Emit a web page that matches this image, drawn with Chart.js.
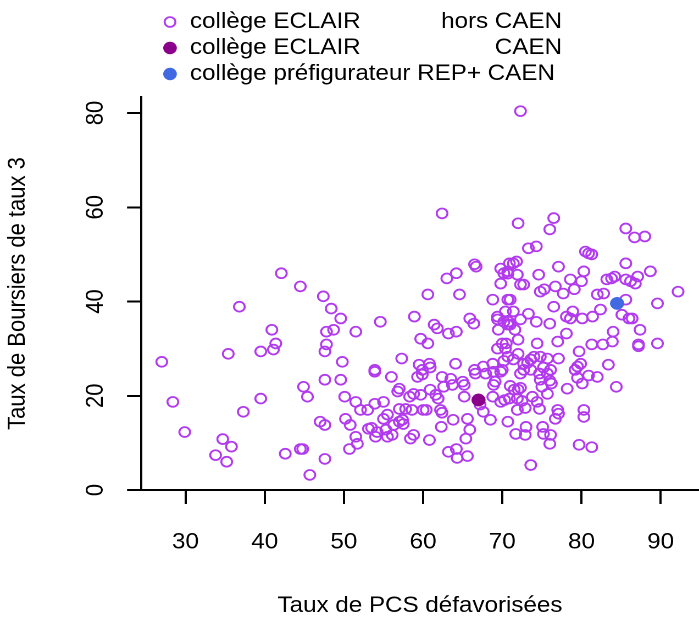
<!DOCTYPE html>
<html>
<head>
<meta charset="utf-8">
<script src="https://cdn.jsdelivr.net/npm/chart.js@4.4.1/dist/chart.umd.min.js"></script>
<style>
  html, body { margin: 0; padding: 0; background: #fff; overflow: hidden; }
  /* the reference picture is slightly stretched horizontally */
  #wrap { width: 636px; height: 617px; transform: scaleX(1.099); transform-origin: 0 0; }
</style>
</head>
<body>
<div id="wrap"><canvas id="chart" width="636" height="617"></canvas></div>
<script>
// Data
const horsCaenX = [
  72.3, 72.0, 76.5, 76.0, 85.6, 86.7, 88.0, 62.4, 42.1, 44.5, 47.4, 48.4, 36.8, 40.9, 41.4, 41.1,
  39.5, 35.4, 27.0, 47.8, 48.7, 47.8, 47.6, 28.4, 29.9, 34.7, 35.8, 33.8, 35.2, 37.3, 39.5, 44.9,
  45.4, 47.6, 47.0, 47.6, 42.6, 44.5, 44.8, 47.6, 45.7, 49.6, 51.5, 54.6, 49.8, 53.9, 57.3, 59.5,
  60.8, 60.9, 64.1, 66.5, 67.6, 68.8, 70.0, 70.7, 58.9, 59.7, 60.6, 61.4, 61.8, 63.2, 64.2, 65.9,
  66.4, 60.6, 64.6, 63.0, 64.2, 66.5, 66.7, 69.8, 70.2, 70.7, 69.8, 68.8, 70.7, 69.4, 69.4, 70.4,
  70.2, 69.5, 70.7, 70.0, 69.4, 70.4, 70.9, 73.3, 74.3, 80.5, 80.9, 81.3, 85.6, 88.7, 92.2, 89.6,
  87.4, 89.6, 87.2, 87.2, 84.0, 83.9, 82.7, 81.3, 79.7, 83.4, 79.9, 79.5, 77.1, 75.7, 74.8, 74.0,
  73.6, 72.7, 70.5, 72.0, 74.4, 77.0, 78.1, 76.0, 74.3, 73.3, 72.3, 71.4, 70.8, 71.0, 71.6, 76.5,
  78.1, 78.6, 78.9, 80.1, 81.4, 82.4, 85.1, 86.0, 86.4, 82.0, 82.8, 85.6, 71.0, 74.8, 75.3, 76.7,
  77.7, 79.1, 78.6, 80.0, 80.3, 77.1, 74.6, 72.7, 72.3, 71.9, 70.7, 71.4, 71.8, 83.2, 83.8, 84.2,
  85.6, 86.2, 86.8, 87.1, 70.2, 72.0, 71.4, 72.7, 73.6, 75.2, 76.1, 49.6, 53.9, 56.0, 59.9, 59.3,
  50.1, 51.5, 52.1, 53.0, 53.9, 55.0, 56.8, 57.0, 58.3, 58.8, 59.7, 60.9, 61.6, 61.9, 62.6, 63.7,
  65.0, 65.2, 65.2, 63.5, 62.4, 66.6, 67.9, 68.9, 69.8, 68.9, 69.1, 68.8, 69.8, 70.3, 67.2, 67.6,
  68.5, 70.7, 63.8, 65.6, 65.9, 65.4, 63.2, 64.2, 64.3, 65.6, 62.3, 58.8, 58.4, 60.8, 50.2, 50.8,
  53.1, 54.2, 54.0, 55.3, 55.5, 56.1, 56.3, 57.0, 57.4, 57.5, 51.5, 51.7, 50.7, 57.0, 57.8, 58.6,
  60.0, 60.4, 62.2, 62.4, 55.5, 55.0, 53.5, 72.3, 73.2, 74.7, 75.7, 74.8, 76.0, 76.2, 75.0, 75.7,
  78.2, 79.2, 79.5, 80.1, 80.9, 82.0, 84.4, 71.0, 71.5, 72.0, 72.3, 70.9, 71.9, 72.5, 73.8, 74.4,
  72.9, 71.9, 74.7, 77.0, 77.1, 76.7, 80.3, 80.3, 73.0, 75.1, 71.7, 72.9, 75.2, 76.1, 76.0, 79.7,
  81.3, 73.6, 59.9
];
const horsCaenY = [
  80.4, 56.6, 57.7, 55.3, 55.5, 53.6, 53.8, 58.7, 46.0, 43.2, 41.1, 38.5, 38.9, 34.0, 31.1, 29.8,
  29.4, 28.9, 27.2, 33.6, 34.0, 30.9, 29.4, 18.7, 12.3, 10.8, 9.2, 7.4, 6.0, 16.6, 19.4, 21.9,
  19.8, 23.4, 14.5, 13.8, 7.7, 8.7, 8.7, 6.6, 3.2, 36.4, 33.6, 35.7, 27.2, 25.5, 27.9, 26.6,
  26.8, 26.0, 26.8, 25.5, 26.2, 26.8, 25.5, 28.3, 36.8, 32.1, 31.1, 35.1, 34.3, 33.2, 33.6, 36.4,
  35.3, 41.5, 41.5, 44.9, 46.0, 47.9, 47.4, 47.0, 46.0, 46.4, 43.8, 40.4, 40.4, 36.8, 36.2, 37.9,
  35.7, 34.0, 35.1, 31.1, 30.0, 30.0, 48.1, 51.3, 51.7, 50.6, 50.2, 50.0, 48.1, 46.4, 42.1, 39.6,
  34.0, 31.1, 30.9, 30.5, 33.6, 31.5, 30.9, 30.9, 29.4, 26.6, 26.8, 26.2, 27.9, 27.9, 28.3, 28.3,
  27.7, 26.8, 31.1, 31.9, 31.1, 31.5, 33.2, 35.3, 35.7, 37.4, 36.2, 37.9, 35.7, 35.1, 34.0, 38.9,
  36.8, 36.4, 37.9, 36.4, 36.8, 38.3, 37.2, 36.4, 36.4, 41.5, 41.7, 40.4, 40.4, 42.1, 42.6, 43.2,
  41.7, 42.6, 44.7, 44.3, 46.4, 47.4, 45.7, 43.6, 43.6, 45.7, 45.9, 48.1, 48.5, 44.7, 44.9, 45.3,
  44.7, 44.3, 43.8, 45.3, 27.4, 28.9, 27.7, 25.5, 25.5, 26.0, 25.5, 23.4, 25.1, 24.0, 24.5, 24.0,
  19.8, 18.7, 17.0, 17.0, 18.3, 18.7, 20.9, 21.5, 19.8, 20.4, 20.2, 21.3, 20.2, 19.4, 21.9, 22.3,
  23.0, 22.3, 19.8, 23.6, 24.0, 24.7, 24.7, 25.1, 25.1, 22.3, 23.0, 19.8, 18.7, 19.1, 18.1, 16.6,
  14.9, 14.5, 14.9, 15.1, 12.8, 10.9, 8.1, 8.7, 6.8, 7.2, 13.4, 11.7, 10.9, 10.6, 15.1, 13.8,
  13.0, 12.3, 11.3, 12.8, 11.3, 11.7, 13.8, 14.5, 14.9, 14.0, 11.3, 9.8, 8.7, 17.2, 17.2, 17.0,
  17.0, 17.0, 17.0, 16.4, 16.0, 15.1, 13.2, 24.7, 27.0, 24.7, 24.7, 23.4, 23.2, 22.6, 21.9, 20.4,
  21.5, 25.5, 23.8, 22.6, 24.3, 24.0, 21.9, 22.1, 21.3, 21.3, 21.7, 19.4, 19.4, 18.9, 19.8, 18.7,
  17.4, 17.0, 17.2, 17.0, 16.2, 15.1, 17.0, 15.5, 13.4, 13.4, 11.9, 11.7, 11.9, 11.7, 9.8, 9.6,
  9.1, 5.3, 25.5
];
const eclairCaenX = [67.0];
const eclairCaenY = [19.1];
const repCaenX = [84.5];
const repCaenY = [39.6];

const xTicks = [30, 40, 50, 60, 70, 80, 90];
const yTicks = [0, 20, 40, 60, 80];
const xTitle = 'Taux de PCS défavorisées';
const yTitle = 'Taux de Boursiers de taux 3';
const legendLeft = ['collège ECLAIR', 'collège ECLAIR', 'collège préfigurateur REP+ CAEN'];
const legendRight = ['hors CAEN', 'CAEN', ''];

const FONT = "'Liberation Sans', Arial, Helvetica, sans-serif";
const OPEN_COLOR = '#B23AEE';
const ECLAIR_COLOR = '#8B008B';
const REP_COLOR = '#4169E1';

function toPoints(xs, ys) {
  return xs.map((x, i) => ({ x: x, y: ys[i] }));
}

// R-style legend drawn on top of the plot
const rLegend = {
  id: 'rLegend',
  afterDraw(chart) {
    const c = chart.ctx;
    const symX = 154.7, textX = 172.9, rightX = 511.4;
    const rows = [22, 48, 74];
    c.save();
    c.font = '22px ' + FONT;
    c.textBaseline = 'middle';
    rows.forEach((y, i) => {
      c.beginPath();
      if (i === 0) {
        c.arc(symX, y, 4.9, 0, Math.PI * 2);
        c.lineWidth = 1.8;
        c.strokeStyle = OPEN_COLOR;
        c.stroke();
      } else {
        c.arc(symX, y, 6.2, 0, Math.PI * 2);
        c.fillStyle = i === 1 ? ECLAIR_COLOR : REP_COLOR;
        c.fill();
      }
      c.fillStyle = '#000';
      c.textAlign = 'left';
      c.fillText(legendLeft[i], textX, y);
      if (legendRight[i]) {
        c.textAlign = 'right';
        c.fillText(legendRight[i], rightX, y);
      }
    });
    c.restore();
  }
};

const ctx = document.getElementById('chart').getContext('2d');
new Chart(ctx, {
  type: 'scatter',
  data: {
    datasets: [
      {
        label: 'collège préfigurateur REP+ CAEN',
        data: toPoints(repCaenX, repCaenY),
        pointRadius: 6.2,
        pointBackgroundColor: REP_COLOR,
        pointBorderColor: REP_COLOR,
        pointBorderWidth: 0.5
      },
      {
        label: 'collège ECLAIR CAEN',
        data: toPoints(eclairCaenX, eclairCaenY),
        pointRadius: 6.2,
        pointBackgroundColor: ECLAIR_COLOR,
        pointBorderColor: ECLAIR_COLOR,
        pointBorderWidth: 0.5
      },
      {
        label: 'collège ECLAIR hors CAEN',
        data: toPoints(horsCaenX, horsCaenY),
        pointRadius: 4.9,
        pointBackgroundColor: 'rgba(0,0,0,0)',
        pointBorderColor: OPEN_COLOR,
        pointBorderWidth: 1.8
      }
    ]
  },
  options: {
    responsive: false,
    animation: false,
    devicePixelRatio: 2,
    layout: { autoPadding: false, padding: { top: 97, right: 0, bottom: 0, left: 0 } },
    plugins: { legend: { display: false }, tooltip: { enabled: false } },
    scales: {
      x: {
        type: 'linear',
        min: 24.38,
        max: 94.84,
        afterBuildTicks: s => { s.ticks = xTicks.map(v => ({ value: v })); },
        afterFit: s => { s.height = 127; s.paddingLeft = 0; s.paddingRight = 0; },
        grid: { display: true, drawOnChartArea: false, drawTicks: true, tickLength: 14, tickWidth: 2, tickColor: '#000' },
        border: { display: true, color: '#000', width: 2 },
        ticks: { color: '#000', font: { family: FONT, size: 22 }, padding: 25, maxRotation: 0, minRotation: 0, autoSkip: false },
        title: { display: true, text: xTitle, color: '#000', font: { family: FONT, size: 22, lineHeight: 1 }, padding: { top: 0, bottom: 0 } }
      },
      y: {
        type: 'linear',
        min: 0,
        max: 83.4,
        afterBuildTicks: s => { s.ticks = yTicks.map(v => ({ value: v })); },
        afterFit: s => { s.width = 128.3; s.paddingTop = 0; s.paddingBottom = 0; },
        grid: { display: true, drawOnChartArea: false, drawTicks: true, tickLength: 12.7, tickWidth: 2, tickColor: '#000' },
        border: { display: true, color: '#000', width: 2 },
        ticks: { color: '#000', font: { family: FONT, size: 22 }, padding: 16, minRotation: 90, maxRotation: 90, crossAlign: 'center', autoSkip: false },
        title: { display: true, text: yTitle, color: '#000', font: { family: FONT, size: 22, lineHeight: 1 }, padding: { top: 5.4, bottom: 0 } }
      }
    }
  },
  plugins: [rLegend]
});
</script>
</body>
</html>
